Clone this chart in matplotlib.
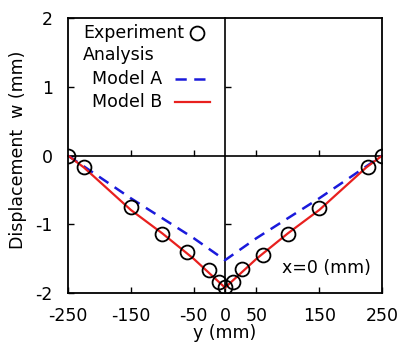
import matplotlib
matplotlib.use('Agg')
import matplotlib.pyplot as plt

plt.rcParams['font.family'] = ['DejaVu Sans']
plt.rcParams['axes.unicode_minus'] = False

# --- Data ---
# Experiment points, y in mm, w in mm
yExp = [-250, -225, -150, -100, -60, -25, -10, 0, 12, 27, 60, 100, 150, 228, 250]
wExp = [0.0, -0.16, -0.75, -1.14, -1.40, -1.66, -1.84, -1.91, -1.84, -1.65, -1.45, -1.14, -0.76, -0.16, 0.0]

# Model A (blue dashed)
yModelA = [-250, -150, -50, 0, 50, 150, 250]
wModelA = [0.0, -0.62, -1.20, -1.52, -1.20, -0.62, 0.0]

# Model B (red solid)
yModelB = [-250, -225, -150, -100, -50, 0, 50, 100, 150, 225, 250]
wModelB = [0.0, -0.17, -0.79, -1.13, -1.50, -1.92, -1.50, -1.13, -0.79, -0.17, 0.0]

xTicks = [-250, -150, -50, 0, 50, 150, 250]
yTicks = [-2, -1, 0, 1, 2]

fs = 12.5
blue = '#1a1adb'
red = '#e8201e'

fig = plt.figure(figsize=(3.98, 3.49), dpi=100)
ax = fig.add_axes([0.171, 0.160, 0.789, 0.788])

ax.plot(yModelA, wModelA, color=blue, lw=1.8, dashes=(4.5, 3))
ax.plot(yModelB, wModelB, color=red, lw=1.6)
ax.plot(yExp, wExp, ls='none', marker='o', ms=10, mfc='none', mec='k', mew=1.3)

ax.set_xlim(-250, 250)
ax.set_ylim(-2, 2)
ax.set_xticks(xTicks)
ax.set_xticklabels([str(v) for v in xTicks])
ax.set_yticks(yTicks)
ax.tick_params(direction='in', length=4, width=1.0, labelsize=fs, colors='k',
               top=False, right=False)
ax.tick_params(axis='x', pad=10)
ax.tick_params(axis='y', pad=11)
for s in ax.spines.values():
    s.set_linewidth(1.3)

ax.set_xlabel('y (mm)', fontsize=fs, labelpad=-1)
ax.set_ylabel('Displacement  w (mm)', fontsize=fs)
ax.yaxis.set_label_coords(-0.13, 0.52)

# zero axes with their own inward ticks
ax0 = fig.add_axes(ax.get_position())
ax0.patch.set_visible(False)
ax0.set_xlim(-250, 250)
ax0.set_ylim(-2, 2)
ax0.spines['top'].set_visible(False)
ax0.spines['right'].set_visible(False)
ax0.spines['left'].set_position(('data', 0))
ax0.spines['bottom'].set_position(('data', 0))
ax0.spines['left'].set_linewidth(1.2)
ax0.spines['bottom'].set_linewidth(1.2)
ax0.set_xticks([-150, -50, 50, 150])
ax0.set_yticks([-1, 1])
ax0.tick_params(direction='in', length=4, width=1.0, labelbottom=False, labelleft=False)
ax0.set_zorder(0)
ax.set_zorder(1)
ax.patch.set_visible(False)

# legend, laid out by hand like the original
tA = ax.transAxes
ax.text(0.048, 0.945, 'Experiment', transform=tA, va='center', fontsize=fs)
ax.text(0.048, 0.865, 'Analysis', transform=tA, va='center', fontsize=fs)
ax.text(0.076, 0.778, 'Model A', transform=tA, va='center', fontsize=fs)
ax.text(0.076, 0.695, 'Model B', transform=tA, va='center', fontsize=fs)
ax.plot([0.41], [0.945], transform=tA, ls='none', marker='o', ms=10, mfc='none', mec='k', mew=1.3)
ax.plot([0.341, 0.446], [0.778, 0.778], transform=tA, color=blue, lw=1.8, dashes=(4.5, 3))
ax.plot([0.341, 0.452], [0.695, 0.695], transform=tA, color=red, lw=1.6)

ax.text(0.965, 0.09, 'x=0 (mm)', transform=tA, ha='right', va='center', fontsize=fs)

fig.savefig('out.png', dpi=100)
